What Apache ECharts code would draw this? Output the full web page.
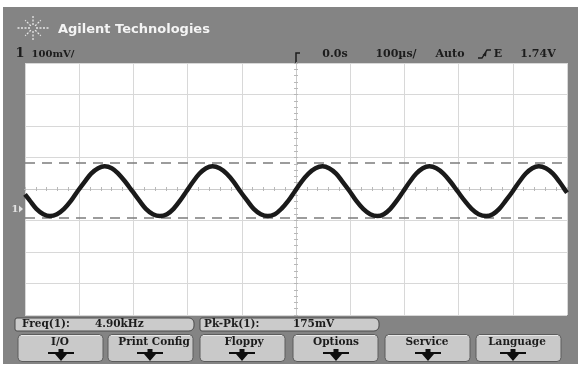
<!DOCTYPE html>
<html>
<head>
<meta charset="utf-8">
<script src="https://cdn.jsdelivr.net/npm/echarts@6/dist/echarts.min.js"></script>
<style>
  html, body { margin: 0; padding: 0; background: #ffffff; }
  #scope { width: 578px; height: 367px; }
</style>
</head>
<body>
<div id="scope"></div>
<script>
// Channel 1 trace: time relative to trigger (µs) and amplitude (mV)
const traceTimeUs = [-500, -491, -479, -466, -454, -441, -428, -415, -403, -390,
                     -378, -365, -353, -340, -328, -315, -302, -289, -277, -264,
                     -251, -238, -226, -214, -202, -190, -178, -166, -154, -141,
                     -128, -115, -103, -90, -78, -65, -52, -39, -27, -14,
                     -2, 10, 23, 36, 49, 61, 74, 86, 99, 111,
                     124, 137, 150, 162, 174, 186, 198, 210, 222, 234,
                     246, 259, 272, 285, 298, 311, 324, 337, 351, 363,
                     375, 387, 400, 412, 424, 436, 448, 461, 474, 486,
                     498, 500];
const traceMv = [-17, -37, -63, -80, -86, -80, -63, -37, -7, 23,
                 49, 66, 72, 66, 49, 23, -7, -37, -63, -80,
                 -86, -80, -63, -37, -7, 23, 49, 66, 72, 66,
                 49, 23, -7, -37, -63, -80, -86, -80, -63, -37,
                 -7, 23, 49, 66, 72, 66, 49, 23, -7, -37,
                 -63, -80, -86, -80, -63, -37, -7, 23, 49, 66,
                 72, 66, 49, 23, -7, -37, -63, -80, -86, -80,
                 -63, -37, -7, 23, 49, 66, 72, 66, 49, 23,
                 -7, -12];

// Pk-Pk measurement cursors (mV): top and bottom
const cursorMv = [83, -92];

// Display settings: 10 horizontal divisions of 100 µs, 8 vertical divisions of 100 mV
const timeRangeUs = [-500, 500];
const timeDivUs = 100;
const voltRangeMv = [-400, 400];
const voltDivMv = 100;

// Status line and readouts
const brandText = 'Agilent Technologies';
const channelText = '1';
const statusTexts = ['100mV/', '0.0s', '100µs/', 'Auto', 'E', '1.74V'];
const freqLabel = 'Freq(1):';
const freqValue = '4.90kHz';
const pkpkLabel = 'Pk-Pk(1):';
const pkpkValue = '175mV';
const softkeys = ['I/O', 'Print Config', 'Floppy', 'Options', 'Service', 'Language'];

// ---- layout ----
const PLOT = { left: 25, top: 63, width: 542, height: 252 };
const FRAME = '#848484';
const INK = '#1c1c1c';
const SERIF = '"DejaVu Serif", serif';

const statusX = [53, 335, 396, 450, 498, 538];
const statusSize = [10, 11, 11, 11, 11, 11];
const keyBoxX = [18, 108, 200, 293, 385, 476];
const keyLabelX = [60, 154, 244, 336, 427, 517];
const keyArrowX = [61, 150, 242, 336, 428, 513];

const g = [];

// frame strips around the white screen
g.push({ type: 'rect', shape: { x: 3, y: 7, width: 575, height: PLOT.top - 7 }, style: { fill: FRAME }, silent: true });
g.push({ type: 'rect', shape: { x: 3, y: PLOT.top, width: PLOT.left - 3, height: PLOT.height }, style: { fill: FRAME }, silent: true });
g.push({ type: 'rect', shape: { x: PLOT.left + PLOT.width, y: PLOT.top, width: 578 - PLOT.left - PLOT.width, height: PLOT.height }, style: { fill: FRAME }, silent: true });
g.push({ type: 'rect', shape: { x: 3, y: PLOT.top + PLOT.height, width: 575, height: 364 - PLOT.top - PLOT.height }, style: { fill: FRAME }, silent: true });

// spark logo
const sparkC = [33, 28];
const rays = [[0, 16], [45, 11], [90, 13], [135, 11], [180, 16], [225, 11], [270, 13], [315, 11]];
rays.forEach(([deg, len]) => {
  const a = deg * Math.PI / 180;
  g.push({
    type: 'line',
    shape: { x1: sparkC[0] + Math.cos(a) * 3, y1: sparkC[1] + Math.sin(a) * 3,
             x2: sparkC[0] + Math.cos(a) * len, y2: sparkC[1] + Math.sin(a) * len },
    style: { stroke: '#e6e6e6', lineWidth: 1.3, lineDash: [2, 1.5] }, silent: true
  });
});
g.push({ type: 'text', x: 58, y: 30, style: { text: brandText, fill: '#f4f4f4', font: 'bold 13px "DejaVu Sans", sans-serif', textVerticalAlign: 'middle' }, silent: true });

// status line
g.push({ type: 'text', x: 20, y: 54, style: { text: channelText, fill: INK, font: 'bold 13px ' + SERIF, textAlign: 'center', textVerticalAlign: 'middle' }, silent: true });
statusTexts.forEach((t, i) => {
  g.push({ type: 'text', x: statusX[i], y: 54, style: { text: t, fill: INK, font: 'bold ' + statusSize[i] + 'px ' + SERIF, textAlign: 'center', textVerticalAlign: 'middle' }, silent: true });
});
// trigger position marker
g.push({ type: 'polyline', shape: { points: [[300, 53], [296, 53], [296, 64]] }, style: { stroke: INK, lineWidth: 1.5, fill: null }, silent: true });
// trigger slope (rising edge)
g.push({ type: 'polyline', shape: { points: [[478, 58], [482, 58], [487, 50], [491, 50]] }, style: { stroke: INK, lineWidth: 1.4, fill: null }, silent: true });
g.push({ type: 'polygon', shape: { points: [[482.5, 55], [486.5, 52], [486, 56.5]] }, style: { fill: INK }, silent: true });

// ground reference marker for channel 1
g.push({ type: 'text', x: 15, y: 209, style: { text: channelText, fill: '#e2e2e2', font: 'bold 10px ' + SERIF, textAlign: 'center', textVerticalAlign: 'middle' }, silent: true });
g.push({ type: 'polygon', shape: { points: [[19, 205.5], [23, 209], [19, 212.5]] }, style: { fill: '#e2e2e2' }, silent: true });

// measurement readout boxes
[[15, 179], [200, 179]].forEach(([x, w]) => {
  g.push({ type: 'rect', shape: { x: x, y: 318, width: w, height: 13, r: [2, 5, 5, 2] }, style: { fill: '#cbcbcb', stroke: '#4a4a4a', lineWidth: 1 }, silent: true });
});
const readFont = 'bold 10.5px ' + SERIF;
g.push({ type: 'text', x: 22, y: 324.5, style: { text: freqLabel, fill: INK, font: readFont, textVerticalAlign: 'middle' }, silent: true });
g.push({ type: 'text', x: 95, y: 324.5, style: { text: freqValue, fill: INK, font: readFont, textVerticalAlign: 'middle' }, silent: true });
g.push({ type: 'text', x: 204, y: 324.5, style: { text: pkpkLabel, fill: INK, font: readFont, textVerticalAlign: 'middle' }, silent: true });
g.push({ type: 'text', x: 293, y: 324.5, style: { text: pkpkValue, fill: INK, font: readFont, textVerticalAlign: 'middle' }, silent: true });

// softkeys
softkeys.forEach((label, i) => {
  g.push({ type: 'rect', shape: { x: keyBoxX[i], y: 334.5, width: 85, height: 27, r: 4 }, style: { fill: '#c9c9c9', stroke: '#5c5c5c', lineWidth: 1 }, silent: true });
  g.push({ type: 'line', shape: { x1: keyBoxX[i] + 3, y1: 335.5, x2: keyBoxX[i] + 82, y2: 335.5 }, style: { stroke: '#e8e8e8', lineWidth: 1 }, silent: true });
  g.push({ type: 'text', x: keyLabelX[i], y: 342, style: { text: label, fill: INK, font: 'bold 10.5px ' + SERIF, textAlign: 'center', textVerticalAlign: 'middle' }, silent: true });
  const cx = keyArrowX[i];
  g.push({
    type: 'polygon',
    shape: { points: [[cx - 2.5, 349], [cx + 2.5, 349], [cx + 2.5, 352], [cx + 13, 352], [cx + 13, 354],
                      [cx + 6, 354], [cx, 361], [cx - 6, 354], [cx - 13, 354], [cx - 13, 352], [cx - 2.5, 352]] },
    style: { fill: '#0e0e0e' }, silent: true
  });
});

// axes: one pair carries the graticule, two pairs draw the centre lines with ticks on both sides
function timeAxis(extra) {
  return Object.assign({
    type: 'value', min: timeRangeUs[0], max: timeRangeUs[1], interval: timeDivUs,
    axisLabel: { show: false }, splitLine: { show: false },
    axisLine: { show: true, onZero: true, onZeroAxisIndex: 0, lineStyle: { color: '#cbcbcb', width: 1 } },
    axisTick: { show: true, length: 2, lineStyle: { color: '#b8b8b8', width: 1 } },
    minorTick: { show: true, splitNumber: 5, length: 2, lineStyle: { color: '#b8b8b8', width: 1 } }
  }, extra);
}
function voltAxis(extra) {
  return Object.assign({
    type: 'value', min: voltRangeMv[0], max: voltRangeMv[1], interval: voltDivMv,
    axisLabel: { show: false }, splitLine: { show: false },
    axisLine: { show: true, onZero: true, onZeroAxisIndex: 0, lineStyle: { color: '#cbcbcb', width: 1 } },
    axisTick: { show: true, length: 2, lineStyle: { color: '#b8b8b8', width: 1 } },
    minorTick: { show: true, splitNumber: 5, length: 2, lineStyle: { color: '#b8b8b8', width: 1 } }
  }, extra);
}

const option = {
  animation: false,
  backgroundColor: '#ffffff',
  grid: { left: PLOT.left, top: PLOT.top, width: PLOT.width, height: PLOT.height,
          show: true, backgroundColor: '#ffffff', borderWidth: 0 },
  xAxis: [
    timeAxis({ position: 'bottom', splitLine: { show: true, lineStyle: { color: '#d8d8d8', width: 1 } } }),
    timeAxis({ position: 'top' })
  ],
  yAxis: [
    voltAxis({ position: 'left', splitLine: { show: true, lineStyle: { color: '#d8d8d8', width: 1 } } }),
    voltAxis({ position: 'right' })
  ],
  series: [{
    type: 'line',
    xAxisIndex: 0, yAxisIndex: 0,
    data: traceTimeUs.map((t, i) => [t, traceMv[i]]),
    smooth: 0.35,
    showSymbol: false,
    clip: true,
    lineStyle: { color: '#1a1a1a', width: 4.5 },
    markLine: {
      silent: true,
      symbol: ['none', 'none'],
      label: { show: false },
      lineStyle: { color: '#7c7c7c', type: [10, 7], width: 1.5 },
      data: cursorMv.map(v => ({ yAxis: v }))
    },
    z: 5
  }],
  graphic: g
};

const chart = echarts.init(document.getElementById('scope'));
chart.setOption(option);
</script>
</body>
</html>
